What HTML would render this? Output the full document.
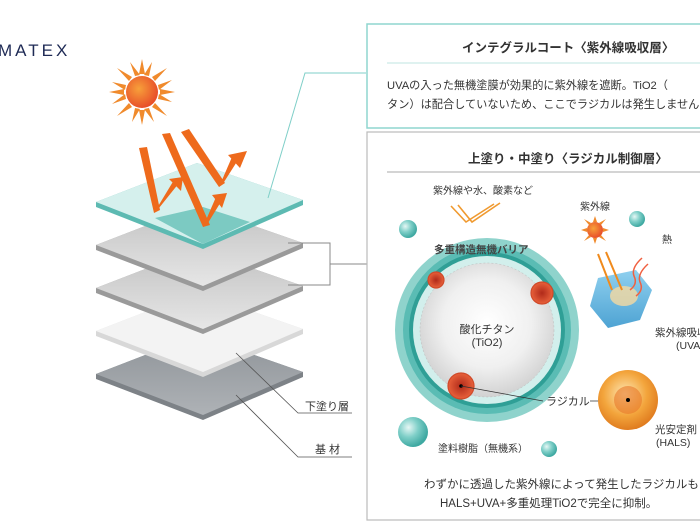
<!DOCTYPE html>
<html><head><meta charset="utf-8"><style>
html,body{margin:0;padding:0;background:#fff;width:700px;height:525px;overflow:hidden}
svg{display:block}
text{font-family:"Liberation Sans","Noto Sans CJK JP",sans-serif;fill:#333}
</style></head><body>
<svg width="700" height="525" viewBox="0 0 700 525" xmlns="http://www.w3.org/2000/svg">
<defs>
<radialGradient id="sun" cx="0.4" cy="0.4" r="0.6"><stop offset="0" stop-color="#f7a03a"/><stop offset="1" stop-color="#e8502a"/></radialGradient>
<radialGradient id="tball" cx="0.35" cy="0.35" r="0.65"><stop offset="0" stop-color="#e6f7f5"/><stop offset="0.5" stop-color="#7fcfc8"/><stop offset="1" stop-color="#3fa9a2"/></radialGradient>
<radialGradient id="pearl" cx="0.5" cy="0.45" r="0.55"><stop offset="0" stop-color="#ffffff"/><stop offset="0.6" stop-color="#f0f0f0"/><stop offset="1" stop-color="#d2d2d2"/></radialGradient>
<radialGradient id="hals" cx="0.45" cy="0.4" r="0.6"><stop offset="0" stop-color="#fde7b5"/><stop offset="0.6" stop-color="#f3a53c"/><stop offset="1" stop-color="#e07c1f"/></radialGradient>
<radialGradient id="rad" cx="0.5" cy="0.5" r="0.5"><stop offset="0" stop-color="#b02a1a"/><stop offset="1" stop-color="#e8603a"/></radialGradient>
<linearGradient id="gray" x1="0" y1="0" x2="0" y2="1"><stop offset="0" stop-color="#c2c2c2"/><stop offset="1" stop-color="#e6e6e6"/></linearGradient>
<linearGradient id="dark" x1="0" y1="0" x2="0" y2="1"><stop offset="0" stop-color="#8e9398"/><stop offset="1" stop-color="#aeb2b6"/></linearGradient>
<linearGradient id="hex" x1="0" y1="0" x2="0" y2="1"><stop offset="0" stop-color="#8fd0ef"/><stop offset="1" stop-color="#4ea3d3"/></linearGradient>
</defs>

<text x="-2" y="56" font-size="17" letter-spacing="3" style="fill:#1e2a55">MATEX</text>

<g>
 <polygon points="96,374 197,335 303,372 303,377 203,420 96,379" fill="#7d8287"/>
 <polygon points="96,374 197,335 303,372 203,415" fill="url(#dark)"/>
 <polygon points="96,331 197,292 303,329 303,334 203,377 96,336" fill="#d8d8d8"/>
 <polygon points="96,331 197,292 303,329 203,372" fill="#f3f3f3"/>
 <polygon points="96,288 197,249 303,286 303,291 203,334 96,293" fill="#9a9a9a"/>
 <polygon points="96,288 197,249 303,286 203,329" fill="url(#gray)"/>
 <polygon points="96,245 197,206 303,243 303,248 203,291 96,250" fill="#9a9a9a"/>
 <polygon points="96,245 197,206 303,243 203,286" fill="url(#gray)"/>
 <polygon points="96,202 197,163 303,200 303,205 203,249 96,207" fill="#5dbab2"/>
 <polygon points="96,202 197,163 303,200 203,244" fill="#e0f4f2" opacity="0.92"/>
 <polygon points="155,218 203,207 250,222 203,244" fill="#7ccac2"/>
</g>

<g transform="translate(142,92)">
 <g fill="#f08a2c">
  <polygon points="-3,-18 0,-33 3,-18"/><polygon points="-3,18 0,33 3,18"/>
  <polygon points="-18,-3 -33,0 -18,3"/><polygon points="18,-3 33,0 18,3"/>
  <polygon points="-13,-11 -25,-24 -10,-15"/><polygon points="13,-11 25,-24 10,-15"/>
  <polygon points="-13,11 -25,24 -10,15"/><polygon points="13,11 25,24 10,15"/>
  <polygon points="-7,-16 -12,-30 -2,-17"/><polygon points="7,16 12,30 2,17"/>
  <polygon points="16,-7 30,-12 17,-2"/><polygon points="-16,7 -30,12 -17,2"/>
  <polygon points="7,-16 10,-30 2,-17"/><polygon points="-7,16 -10,30 -2,17"/>
  <polygon points="16,7 30,10 17,2"/><polygon points="-16,-7 -30,-10 -17,-2"/>
 </g>
 <circle r="16" fill="url(#sun)"/>
</g>

<g fill="#ee6a1c">
 <polygon points="139,148 147,147 160,210 154,213"/>
 <polygon points="154,213 159,208 179,183 174,180"/>
 <polygon points="169,179 183,177 181,191"/>
 <polygon points="162,134 170,133 210,225 203,227"/>
 <polygon points="203,227 208,223 222,200 216,197"/>
 <polygon points="212,195 227,193 222,208"/>
 <polygon points="181,132 189,129 225,183 219,187"/>
 <polygon points="219,187 224,182 238,160 232,157"/>
 <polygon points="228,155 247,151 240,168"/>
</g>

<polyline points="268,198 305,73 366,73" fill="none" stroke="#7fcfc8" stroke-width="1"/>
<polyline points="288,243 330,243 330,285 288,285" fill="none" stroke="#888" stroke-width="1"/>
<line x1="330" y1="264" x2="367" y2="264" stroke="#888"/>
<polyline points="236,353 298,413 352,413" fill="none" stroke="#555" stroke-width="0.8"/>
<polyline points="236,395 298,457 352,457" fill="none" stroke="#555" stroke-width="0.8"/>
<text x="305" y="410" font-size="11">下塗り層</text>
<text x="315" y="453" font-size="11">基  材</text>

<rect x="367" y="24" width="340" height="104" fill="none" stroke="#8fd5cf" stroke-width="1.5"/>
<text x="462" y="52" font-size="12.5" font-weight="bold">インテグラルコート〈紫外線吸収層〉</text>
<line x1="387" y1="63" x2="700" y2="63" stroke="#bfe6e2"/>
<text x="387" y="89" font-size="11.2">UVAの入った無機塗膜が効果的に紫外線を遮断。TiO2（</text>
<text x="387" y="108" font-size="11.2">タン）は配合していないため、ここでラジカルは発生しません</text>

<rect x="367" y="132" width="340" height="388" fill="none" stroke="#bbb" stroke-width="1.2"/>
<text x="468" y="163" font-size="12.5" font-weight="bold">上塗り・中塗り〈ラジカル制御層〉</text>
<line x1="387" y1="172" x2="700" y2="172" stroke="#aaa"/>

<text x="433" y="194" font-size="10">紫外線や水、酸素など</text>
<g stroke="#f09a30" stroke-width="1.6" fill="none">
 <polyline points="451,206 466,222 494,204"/><polyline points="458,205 472,222 500,203"/>
</g>
<circle cx="408" cy="229" r="9" fill="url(#tball)"/>
<circle cx="637" cy="219" r="8" fill="url(#tball)"/>
<circle cx="413" cy="432" r="15" fill="url(#tball)"/>
<circle cx="549" cy="449" r="8" fill="url(#tball)"/>

<circle cx="487" cy="330" r="92" fill="#8fd3cc"/>
<circle cx="487" cy="330" r="84" fill="#5abcb4"/>
<circle cx="487" cy="330" r="78" fill="#2f9f96"/>
<circle cx="487" cy="330" r="74" fill="#d2efec"/>
<circle cx="487" cy="330" r="67" fill="url(#pearl)" stroke="#bbb" stroke-dasharray="2,2" stroke-width="0.5"/>
<text x="434" y="253" font-size="10.5" font-weight="bold" style="fill:#444">多重構造無機バリア</text>
<text x="487" y="333" font-size="11" text-anchor="middle">酸化チタン</text>
<text x="487" y="346" font-size="11" text-anchor="middle">(TiO2)</text>
<g fill="url(#rad)" stroke="#d04a2a" stroke-width="1.2">
 <circle cx="436" cy="280" r="8"/><circle cx="542" cy="293" r="11"/><circle cx="461" cy="386" r="13"/>
</g>
<circle cx="461" cy="386" r="1.8" fill="#000"/>
<line x1="461" y1="386" x2="543" y2="401" stroke="#333" stroke-width="0.8"/>
<text x="546" y="405" font-size="11">ラジカル</text>
<line x1="590" y1="401" x2="628" y2="401" stroke="#333" stroke-width="0.8"/>

<g transform="translate(595,230)">
 <g fill="#f08a2c">
  <polygon points="-2,-8 0,-14 2,-8"/><polygon points="-2,8 0,14 2,8"/><polygon points="-8,-2 -14,0 -8,2"/><polygon points="8,-2 14,0 8,2"/>
  <polygon points="-6,-5 -11,-11 -4,-7"/><polygon points="6,5 11,11 4,7"/><polygon points="6,-5 11,-11 4,-7"/><polygon points="-6,5 -11,11 -4,7"/>
 </g>
 <circle r="8" fill="url(#sun)"/>
</g>
<text x="580" y="210" font-size="10">紫外線</text>
<text x="662" y="243" font-size="10">熱</text>
<polygon points="598,278 636,270 652,290 640,320 608,328 590,306" fill="url(#hex)"/>
<ellipse cx="624" cy="296" rx="14" ry="10" fill="#f6d9a0" opacity="0.8"/>
<g stroke="#f08a1c" stroke-width="2"><line x1="598" y1="254" x2="612" y2="290"/><line x1="606" y1="252" x2="622" y2="290"/></g>
<g stroke="#f06040" stroke-width="1.5" fill="none"><path d="M630,290 q8,-6 4,-14 q-3,-8 8,-18"/><path d="M636,296 q8,-6 4,-14 q-3,-8 8,-18"/></g>
<text x="655" y="336" font-size="10.5">紫外線吸収剤</text>
<text x="676" y="349" font-size="10.5">(UVA)</text>

<circle cx="628" cy="400" r="30" fill="url(#hals)"/>
<circle cx="628" cy="400" r="14" fill="#e8782a" opacity="0.6"/>
<circle cx="628" cy="400" r="2" fill="#000"/>
<text x="655" y="433" font-size="10.5">光安定剤</text>
<text x="656" y="446" font-size="10.5">(HALS)</text>

<text x="438" y="452" font-size="10">塗料樹脂（無機系）</text>
<text x="424" y="488" font-size="11.5">わずかに透過した紫外線によって発生したラジカルも</text>
<text x="440" y="507" font-size="11.5">HALS+UVA+多重処理TiO2で完全に抑制。</text>
</svg>
</body></html>
